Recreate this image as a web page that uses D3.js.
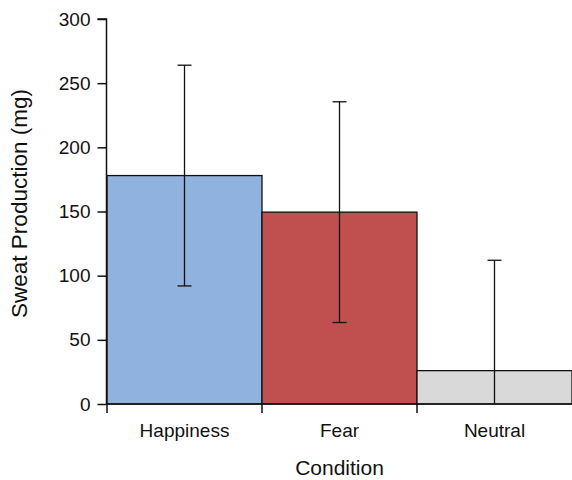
<!DOCTYPE html>
<html>
<head>
<meta charset="utf-8">
<script src="https://cdn.jsdelivr.net/npm/d3@7"></script>
<style>
  body { margin: 0; background: #fff; }
  text { font-family: "Liberation Sans", Arial, sans-serif; fill: #111; }
</style>
</head>
<body>
<svg id="chart"></svg>
<script>
var categories = ["Happiness", "Fear", "Neutral"];
var means = [178, 149.5, 26];
var errors = [86, 86, 86];
var colors = ["#8fb2df", "#c0504f", "#d9d9d9"];
var yTicks = [0, 50, 100, 150, 200, 250, 300];

var margin = {top: 19, right: 0, bottom: 76, left: 107},
    width = 572 - margin.left - margin.right,
    height = 480 - margin.top - margin.bottom;

var svg = d3.select("#chart")
  .attr("width", 572)
  .attr("height", 480)
  .append("g")
  .attr("transform", "translate(" + margin.left + "," + margin.top + ")");

var x = d3.scaleBand().domain(categories).range([0, width]).padding(0);
var y = d3.scaleLinear().domain([0, 300]).range([height, 0]);

// bars
svg.selectAll("rect.bar")
  .data(categories)
  .enter().append("rect")
  .attr("class", "bar")
  .attr("x", function(d) { return x(d); })
  .attr("width", x.bandwidth())
  .attr("y", function(d, i) { return y(means[i]); })
  .attr("height", function(d, i) { return y(0) - y(means[i]); })
  .style("fill", function(d, i) { return colors[i]; })
  .style("stroke", "#111")
  .style("stroke-width", 1.3);

// error bars
var capW = 7;
categories.forEach(function(c, i) {
  var cx = x(c) + x.bandwidth() / 2;
  var hi = means[i] + errors[i], lo = Math.max(0, means[i] - errors[i]);
  var g = svg.append("g").style("stroke", "#111").style("stroke-width", 1.3);
  g.append("line").attr("x1", cx).attr("x2", cx).attr("y1", y(hi)).attr("y2", y(lo));
  g.append("line").attr("x1", cx - capW).attr("x2", cx + capW).attr("y1", y(hi)).attr("y2", y(hi));
  if (means[i] - errors[i] > 0) {
    g.append("line").attr("x1", cx - capW).attr("x2", cx + capW).attr("y1", y(lo)).attr("y2", y(lo));
  }
});

// y axis
var yAxis = svg.append("g")
  .attr("transform", "translate(-0.5,0)")
  .call(d3.axisLeft(y).tickValues(yTicks).tickSize(9).tickPadding(7));
yAxis.selectAll("text").style("font-size", "19px").style("fill", "#111");
yAxis.selectAll("line, path").style("stroke", "#111").style("stroke-width", 1.5);
yAxis.select("path").attr("d", "M0," + height + "V0H-9");

// x axis
var xAxis = svg.append("g")
  .attr("transform", "translate(0," + height + ")")
  .call(d3.axisBottom(x).tickSize(0).tickPadding(20));
xAxis.select("path").style("stroke", "#111").style("stroke-width", 1.5)
  .attr("d", "M0,0H" + width);
xAxis.selectAll("text").style("font-size", "19px").style("fill", "#111");

xAxis.selectAll("line.sep")
  .data(categories)
  .enter().append("line")
  .attr("class", "sep")
  .attr("x1", function(d) { return x(d); })
  .attr("x2", function(d) { return x(d); })
  .attr("y1", 0).attr("y2", 9)
  .style("stroke", "#111").style("stroke-width", 1.5);

// axis titles
svg.append("text")
  .attr("x", width / 2)
  .attr("y", height + 71)
  .attr("text-anchor", "middle")
  .style("font-size", "21px")
  .text("Condition");

svg.append("text")
  .attr("transform", "translate(" + (-80) + "," + (height / 2 - 8) + ") rotate(-90)")
  .attr("text-anchor", "middle")
  .style("font-size", "22.5px")
  .text("Sweat Production (mg)");
</script>
</body>
</html>
